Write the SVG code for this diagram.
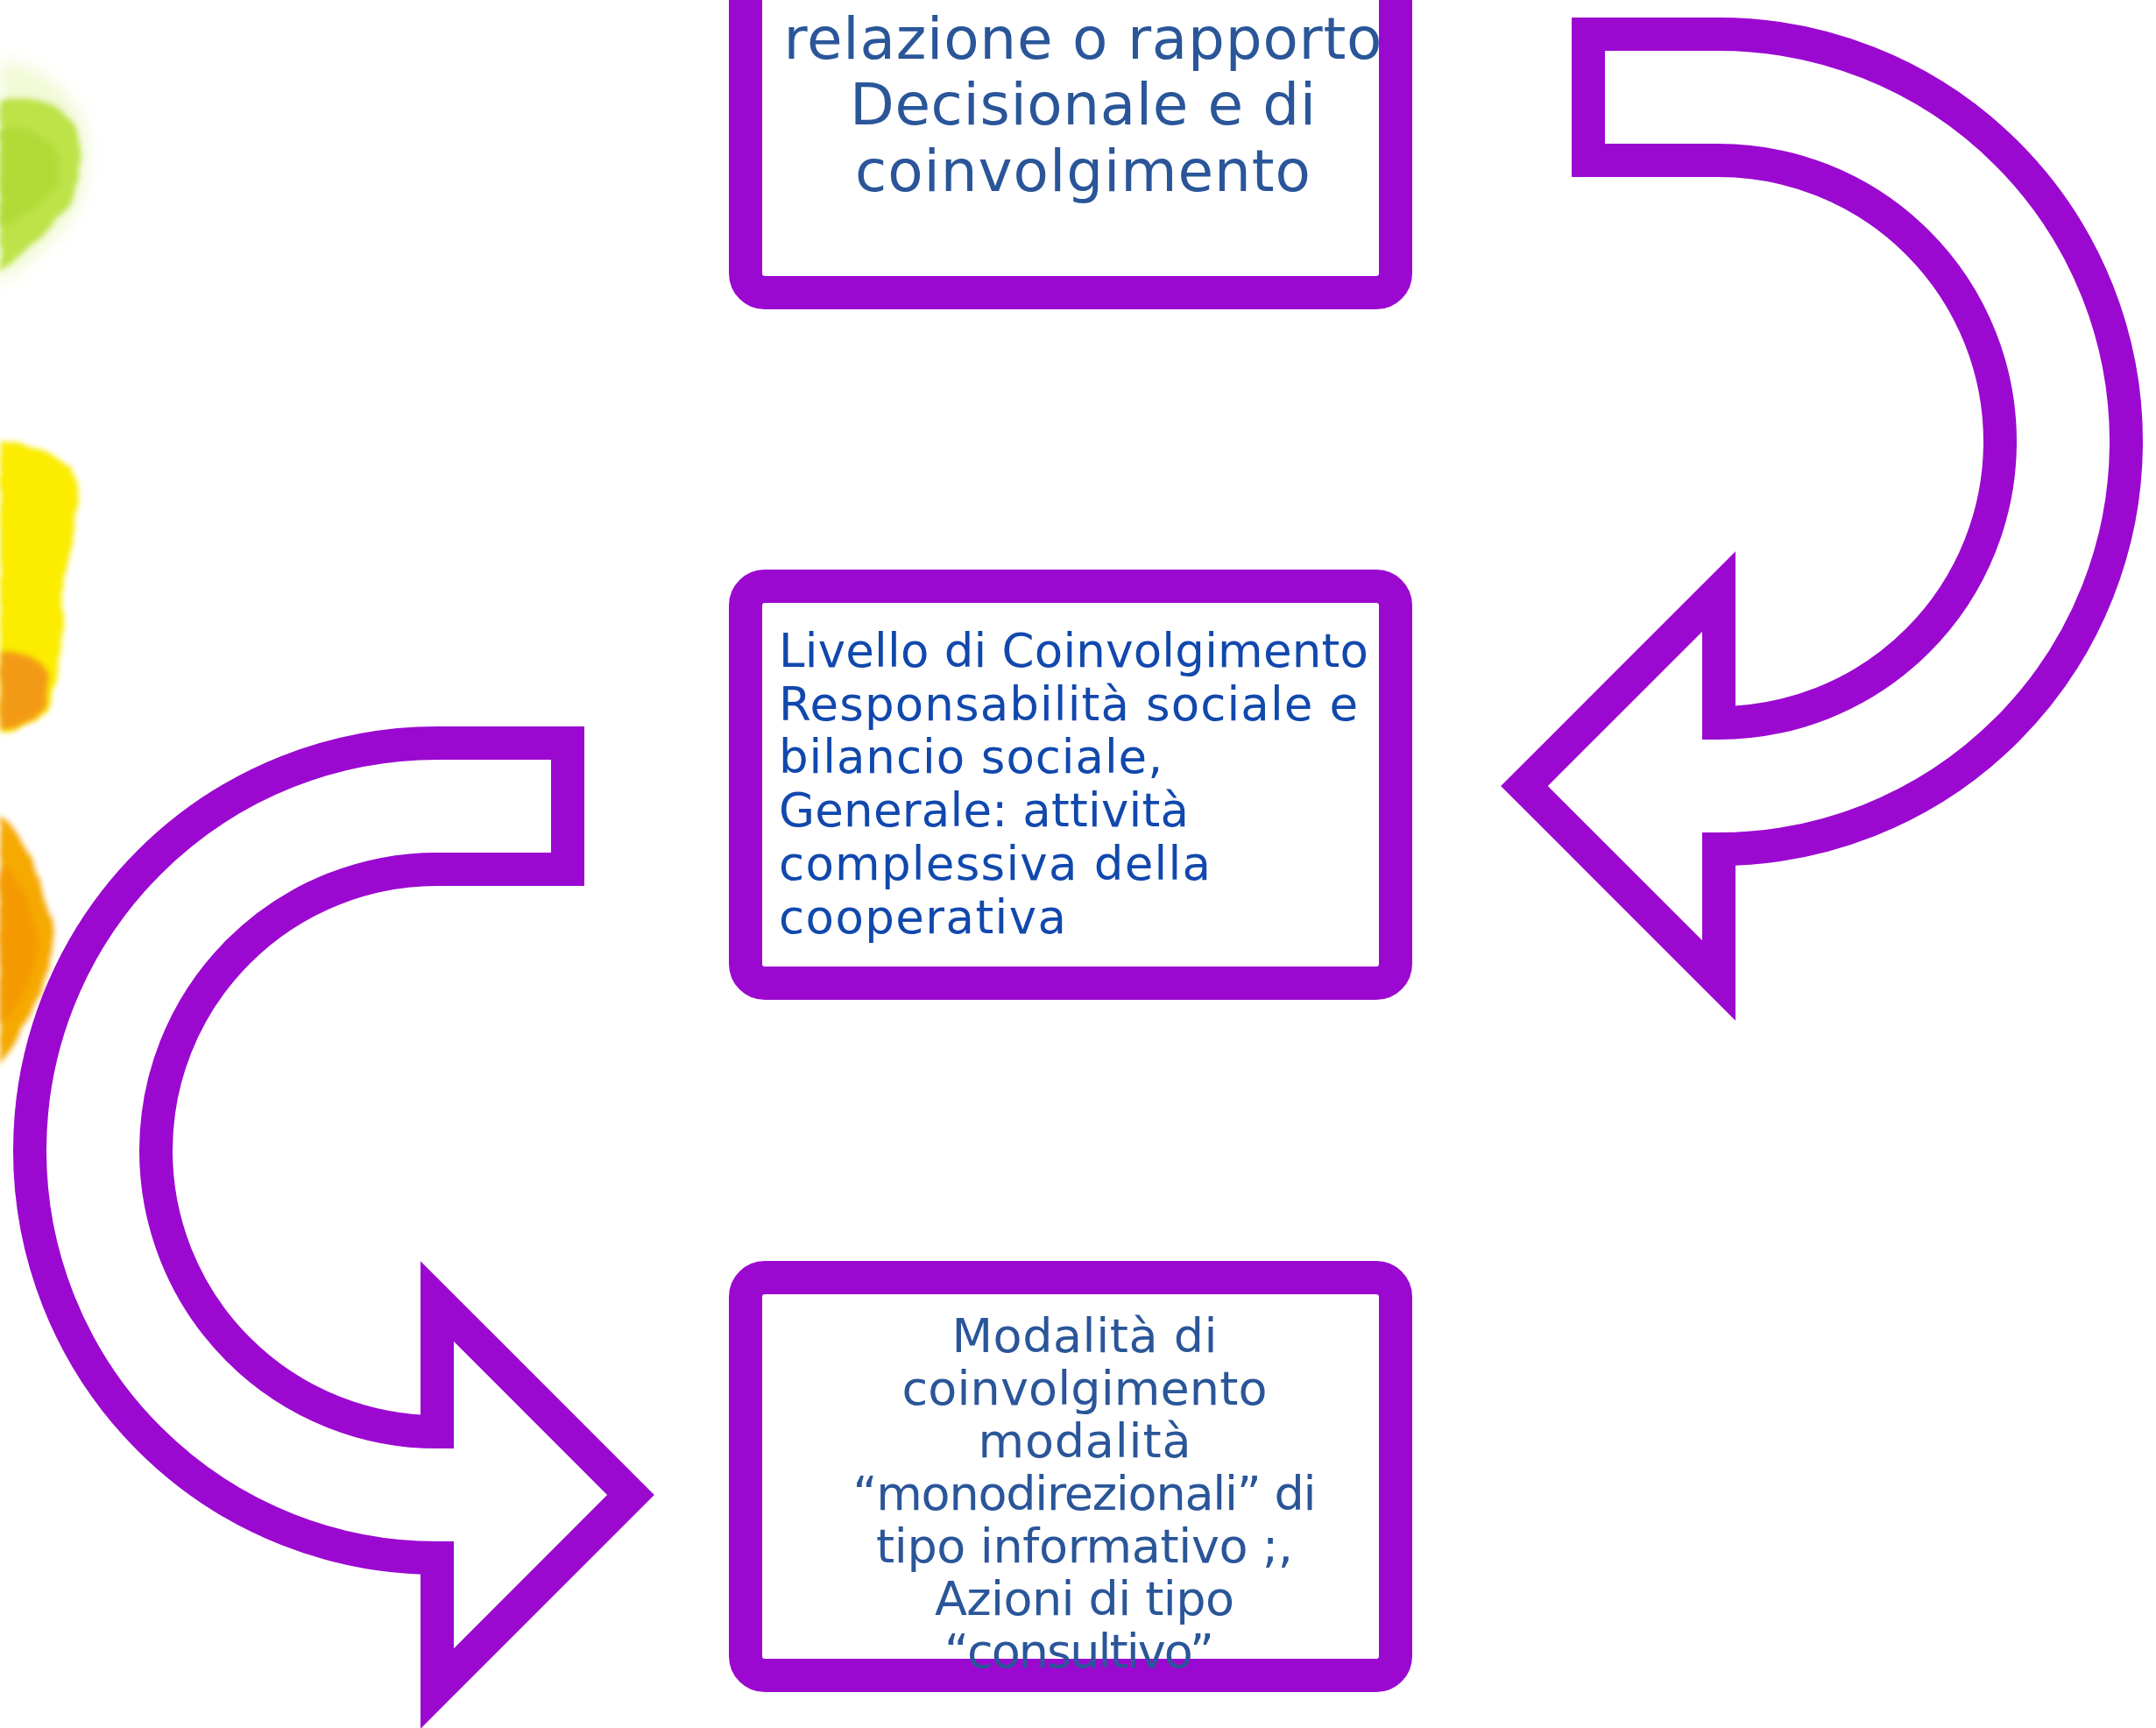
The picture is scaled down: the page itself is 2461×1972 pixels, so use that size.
<svg xmlns="http://www.w3.org/2000/svg" width="2461" height="1972" viewBox="0 0 2461 1972">
  <defs>
    <filter id="soft" x="-30%" y="-30%" width="160%" height="160%">
      <feTurbulence type="fractalNoise" baseFrequency="0.05" numOctaves="2" seed="3" result="n"/>
      <feDisplacementMap in="SourceGraphic" in2="n" scale="7" xChannelSelector="R" yChannelSelector="G" result="d"/>
      <feGaussianBlur in="d" stdDeviation="3"/>
    </filter>
    <filter id="halo" x="-50%" y="-50%" width="200%" height="200%">
      <feGaussianBlur stdDeviation="9"/>
    </filter>
  </defs>
  <style>
    .frame { fill: #ffffff; stroke: #9b09d0; stroke-width: 38; stroke-linejoin: miter; stroke-miterlimit: 10; }
    .box { fill: #ffffff; stroke: #9b09d0; stroke-width: 38; }
    .t { font-family: "DejaVu Sans", "Liberation Sans", sans-serif; }
    .t1 { font-size: 66px; fill: #2a5699; text-anchor: middle; }
    .t2 { font-size: 53px; fill: #1148ad; }
    .t3 { font-size: 54px; fill: #2a5699; text-anchor: middle; }
  </style>
  <rect width="2461" height="1972" fill="#ffffff"/>

  <g id="decor">
    <path d="M0,70 C30,70 75,90 96,140 C106,185 96,235 72,262 C45,290 20,310 0,325 Z" fill="#eef8cc" filter="url(#halo)" opacity="0.8"/>
    <path d="M0,116 C30,108 62,112 84,140 C96,170 94,210 80,235 C60,260 30,282 0,312 Z" fill="#bde348" filter="url(#soft)"/>
    <path d="M0,150 C20,140 50,150 66,175 C74,200 60,225 30,245 L0,260 Z" fill="#a9d42c" opacity="0.55" filter="url(#soft)"/>
    <path d="M0,505 C40,505 72,520 86,545 C92,585 80,630 70,680 C76,720 68,760 58,800 C45,828 20,834 0,834 Z" fill="#fbec00" filter="url(#soft)"/>
    <path d="M0,745 C20,742 45,748 55,770 C58,800 45,826 20,830 L0,830 Z" fill="#f1861a" opacity="0.8" filter="url(#soft)"/>
    <path d="M0,930 C22,945 46,990 62,1065 C58,1115 32,1170 0,1215 Z" fill="#f6a900" filter="url(#soft)"/>
    <path d="M0,985 C20,1000 40,1040 44,1080 C38,1120 20,1150 0,1170 Z" fill="#f39300" opacity="0.65" filter="url(#soft)"/>
  </g>

  <g id="connectors">
    <path id="arrow-right" class="frame" d="M1813,39 L1962,39 A465,465 0 0 1 1962,969 L1962,1119 L1740,897 L1962,675 L1962,825 A321,321 0 0 0 1962,183 L1813,183 Z"/>
    <path id="arrow-left" class="frame" d="M648,848 L499,848 A465,465 0 0 0 499,1778 L499,1927 L720,1706 L499,1485 L499,1634 A321,321 0 0 1 499,992 L648,992 Z"/>
  </g>

  <g id="node-1">
    <rect class="box" x="851" y="-200" width="742" height="534" rx="22" ry="22"/>
    <text class="t t1"><tspan x="1236" y="67" textLength="683" lengthAdjust="spacing">relazione o rapporto</tspan><tspan x="1236" y="142" textLength="532" lengthAdjust="spacing">Decisionale e di</tspan><tspan x="1236" y="218" textLength="520" lengthAdjust="spacing">coinvolgimento</tspan></text>
  </g>

  <g id="node-2">
    <rect class="box" x="851" y="669" width="742" height="453" rx="22" ry="22"/>
    <text class="t t2"><tspan x="889" y="761" textLength="673" lengthAdjust="spacing">Livello di Coinvolgimento</tspan><tspan x="889" y="822" textLength="661" lengthAdjust="spacing">Responsabilità sociale e</tspan><tspan x="889" y="882" textLength="438" lengthAdjust="spacing">bilancio sociale,</tspan><tspan x="889" y="943" textLength="468" lengthAdjust="spacing">Generale: attività</tspan><tspan x="889" y="1004" textLength="493" lengthAdjust="spacing">complessiva della</tspan><tspan x="889" y="1065" textLength="328" lengthAdjust="spacing">cooperativa</tspan></text>
  </g>

  <g id="node-3">
    <rect class="box" x="851" y="1458" width="742" height="454" rx="22" ry="22"/>
    <text class="t t3"><tspan x="1238" y="1543" textLength="303" lengthAdjust="spacing">Modalità di</tspan><tspan x="1238" y="1603" textLength="417" lengthAdjust="spacing">coinvolgimento</tspan><tspan x="1238" y="1663" textLength="243" lengthAdjust="spacing">modalità</tspan><tspan x="1238" y="1723" textLength="529" lengthAdjust="spacing">“monodirezionali” di</tspan><tspan x="1238" y="1783" textLength="476" lengthAdjust="spacing">tipo informativo ;,</tspan><tspan x="1238" y="1843" textLength="342" lengthAdjust="spacing">Azioni di tipo</tspan><tspan x="1232" y="1903" textLength="308" lengthAdjust="spacing">“consultivo”</tspan></text>
  </g>
</svg>
